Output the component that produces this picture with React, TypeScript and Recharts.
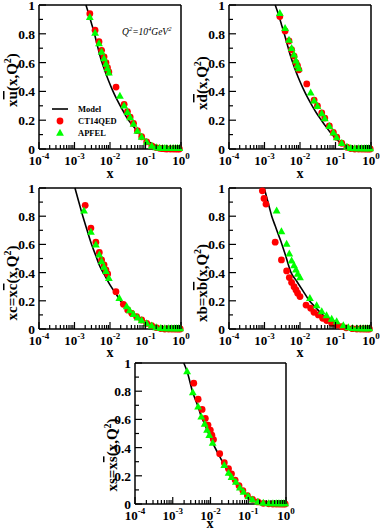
import { ComposedChart, Line, Scatter, XAxis, YAxis } from 'recharts'

const SERIF = "'Liberation Serif', 'Times New Roman', serif"
const RED = '#ff0000'
const GREEN = '#00ff00'

// ticks
const xMajorTicks = [1e-4, 1e-3, 1e-2, 1e-1, 1]
const xMinorMantissas = [2, 3, 4, 5, 6, 7, 8, 9]
const xTicks = [...xMajorTicks, ...xMajorTicks.slice(0, 4).flatMap(d => xMinorMantissas.map(m => m * d))]
const yTicks = [0, 0.1, 0.2, 0.3, 0.4, 0.5, 0.6, 0.7, 0.8, 0.9, 1]
const yMajorTicks = [0, 0.2, 0.4, 0.6, 0.8, 1]
const yTickLabels = ['0', '0.2', '0.4', '0.6', '0.8', '1']

// x ubar
const ubarModelX = [0.0021, 0.0025, 0.003, 0.0036, 0.0045, 0.0055, 0.007, 0.009, 0.012, 0.016, 0.022, 0.03, 0.04, 0.055, 0.07, 0.1, 0.14, 0.2, 0.3, 0.45, 0.7, 1.0]
const ubarModelY = [1.0, 0.94, 0.873, 0.805, 0.71, 0.628, 0.551, 0.478, 0.404, 0.339, 0.276, 0.216, 0.175, 0.132, 0.1, 0.065, 0.042, 0.024, 0.01, 0.003, 0, 0]
const ubarRedX = [0.0027, 0.0038, 0.0049, 0.0058, 0.0068, 0.0077, 0.0085, 0.0093, 0.0148, 0.025, 0.031, 0.037, 0.046, 0.059, 0.078, 0.108, 0.15, 0.2, 0.25, 0.3, 0.35, 0.4, 0.5, 0.6, 0.7, 0.8, 0.9]
const ubarRedY = [0.94, 0.825, 0.745, 0.685, 0.64, 0.6, 0.565, 0.535, 0.43, 0.31, 0.26, 0.222, 0.178, 0.127, 0.085, 0.05, 0.022, 0.01, 0.005, 0.002, 0.001, 0, 0, 0, 0, 0, 0]
const ubarGreenX = [0.0027, 0.0038, 0.0049, 0.0058, 0.0068, 0.0077, 0.0085, 0.0093, 0.019, 0.025, 0.031, 0.037, 0.046, 0.059, 0.078, 0.108, 0.15, 0.2, 0.25, 0.3, 0.35, 0.4, 0.5, 0.6, 0.7, 0.8, 0.9]
const ubarGreenY = [0.915, 0.805, 0.733, 0.673, 0.628, 0.59, 0.558, 0.53, 0.368, 0.3, 0.255, 0.218, 0.173, 0.124, 0.083, 0.048, 0.02, 0.01, 0.006, 0.005, 0.005, 0.005, 0.005, 0.005, 0.005, 0.005, 0.005]

// x dbar
const dbarModelX = [0.002, 0.0025, 0.003, 0.0036, 0.0045, 0.0055, 0.007, 0.009, 0.012, 0.016, 0.022, 0.03, 0.04, 0.055, 0.07, 0.1, 0.14, 0.2, 0.26, 0.35, 0.5, 0.7, 1.0]
const dbarModelY = [1.0, 0.93, 0.865, 0.8, 0.715, 0.64, 0.565, 0.495, 0.425, 0.362, 0.3, 0.245, 0.2, 0.152, 0.118, 0.075, 0.042, 0.015, 0.004, 0, 0, 0, 0]
const dbarRedX = [0.0027, 0.0038, 0.0049, 0.0058, 0.0068, 0.0077, 0.0085, 0.0093, 0.0155, 0.025, 0.031, 0.041, 0.05, 0.067, 0.087, 0.108, 0.15, 0.21, 0.27, 0.35, 0.45, 0.55, 0.65, 0.75, 0.85, 0.95]
const dbarRedY = [0.92, 0.82, 0.75, 0.69, 0.645, 0.6, 0.578, 0.55, 0.452, 0.34, 0.3, 0.25, 0.215, 0.16, 0.115, 0.082, 0.04, 0.012, 0.003, 0, 0, 0, 0, 0, 0, 0]
const dbarGreenX = [0.0027, 0.0038, 0.0049, 0.0058, 0.0068, 0.0077, 0.0085, 0.0093, 0.02, 0.025, 0.031, 0.041, 0.05, 0.067, 0.087, 0.108, 0.15, 0.21, 0.27, 0.35, 0.45, 0.55, 0.65, 0.75, 0.85, 0.95]
const dbarGreenY = [0.942, 0.838, 0.757, 0.7, 0.655, 0.612, 0.58, 0.558, 0.39, 0.335, 0.297, 0.246, 0.212, 0.158, 0.112, 0.08, 0.04, 0.013, 0.005, 0.003, 0.003, 0.003, 0.003, 0.003, 0.003, 0.003]

// x cbar
const cModelX = [0.00103, 0.0013, 0.0017, 0.0022, 0.003, 0.004, 0.0052, 0.007, 0.01, 0.015, 0.024, 0.035, 0.05, 0.07, 0.1, 0.15, 0.2, 0.3, 0.5, 0.7, 1.0]
const cModelY = [1.0, 0.908, 0.803, 0.711, 0.603, 0.519, 0.443, 0.384, 0.313, 0.246, 0.17, 0.132, 0.097, 0.064, 0.045, 0.025, 0.015, 0.006, 0.001, 0, 0]
const cRedX = [0.002, 0.0029, 0.004, 0.005, 0.0058, 0.0068, 0.0077, 0.0086, 0.0147, 0.0238, 0.0315, 0.041, 0.056, 0.078, 0.108, 0.149, 0.2, 0.27, 0.35, 0.45, 0.55, 0.65, 0.75, 0.85, 0.95]
const cRedY = [0.877, 0.716, 0.616, 0.543, 0.49, 0.455, 0.42, 0.39, 0.265, 0.175, 0.135, 0.111, 0.088, 0.064, 0.04, 0.024, 0.01, 0.003, 0, 0, 0, 0, 0, 0, 0]
const cGreenX = [0.00185, 0.0029, 0.004, 0.005, 0.0058, 0.0068, 0.0077, 0.0093, 0.0183, 0.0295, 0.036, 0.046, 0.06, 0.078, 0.108, 0.149, 0.2, 0.27, 0.35, 0.45, 0.55, 0.65, 0.75, 0.85, 0.95]
const cGreenY = [0.839, 0.687, 0.597, 0.526, 0.479, 0.44, 0.41, 0.36, 0.218, 0.159, 0.13, 0.105, 0.08, 0.06, 0.038, 0.022, 0.01, 0.005, 0.004, 0.004, 0.004, 0.004, 0.004, 0.004, 0.004]

// x bbar
const bModelX = [0.00098, 0.0013, 0.0016, 0.002, 0.0025, 0.0031, 0.004, 0.0056, 0.008, 0.012, 0.0184, 0.028, 0.0437, 0.07, 0.1, 0.16, 0.25, 0.4, 0.6, 1.0]
const bModelY = [1.0, 0.885, 0.8, 0.732, 0.665, 0.6, 0.514, 0.4, 0.34, 0.272, 0.2, 0.151, 0.1, 0.071, 0.052, 0.02, 0.007, 0.001, 0, 0]
const bRedX = [0.00087, 0.00097, 0.0011, 0.002, 0.003, 0.0042, 0.005, 0.0058, 0.0068, 0.0077, 0.0086, 0.01, 0.0148, 0.02, 0.0248, 0.033, 0.0436, 0.0565, 0.078, 0.108, 0.149, 0.2, 0.3, 0.4, 0.5, 0.6, 0.7, 0.8, 0.9]
const bRedY = [0.98, 0.926, 0.886, 0.616, 0.49, 0.412, 0.365, 0.33, 0.3, 0.277, 0.254, 0.23, 0.17, 0.147, 0.118, 0.1, 0.076, 0.06, 0.04, 0.028, 0.017, 0.008, 0.002, 0, 0, 0, 0, 0, 0]
const bGreenX = [0.0022, 0.003, 0.0042, 0.005, 0.0058, 0.0068, 0.0077, 0.0086, 0.01, 0.019, 0.0295, 0.041, 0.056, 0.078, 0.108, 0.166, 0.23, 0.3, 0.4, 0.5, 0.6, 0.7, 0.8, 0.9]
const bGreenY = [0.839, 0.692, 0.602, 0.533, 0.483, 0.45, 0.42, 0.39, 0.365, 0.218, 0.166, 0.123, 0.095, 0.071, 0.052, 0.024, 0.01, 0.005, 0.004, 0.004, 0.004, 0.004, 0.004, 0.004]

// x sbar
const sModelX = [0.00196, 0.0024, 0.0034, 0.0047, 0.0057, 0.007, 0.0081, 0.0093, 0.0114, 0.016, 0.0232, 0.03, 0.04, 0.055, 0.075, 0.1, 0.14, 0.2, 0.3, 0.45, 0.7, 1.0]
const sModelY = [1.0, 0.94, 0.79, 0.69, 0.62, 0.567, 0.524, 0.488, 0.433, 0.357, 0.274, 0.222, 0.17, 0.12, 0.08, 0.05, 0.028, 0.013, 0.004, 0.001, 0, 0]
const sRedX = [0.0036, 0.0047, 0.006, 0.0073, 0.0086, 0.0099, 0.0109, 0.012, 0.0175, 0.0232, 0.03, 0.036, 0.045, 0.057, 0.072, 0.095, 0.13, 0.18, 0.25, 0.35, 0.45, 0.55, 0.65, 0.75, 0.85, 0.95]
const sRedY = [0.857, 0.743, 0.671, 0.607, 0.56, 0.524, 0.488, 0.457, 0.357, 0.293, 0.25, 0.214, 0.17, 0.13, 0.095, 0.06, 0.033, 0.015, 0.005, 0.001, 0, 0, 0, 0, 0, 0]
const sGreenX = [0.0024, 0.0034, 0.0047, 0.0057, 0.007, 0.0081, 0.0093, 0.0114, 0.0232, 0.0301, 0.036, 0.047, 0.06, 0.075, 0.1, 0.13, 0.18, 0.25, 0.35, 0.45, 0.55, 0.65, 0.75, 0.85, 0.95]
const sGreenY = [0.94, 0.79, 0.69, 0.619, 0.567, 0.524, 0.488, 0.433, 0.274, 0.219, 0.19, 0.155, 0.115, 0.085, 0.052, 0.03, 0.014, 0.006, 0.004, 0.004, 0.004, 0.004, 0.004, 0.004, 0.004]

const zip = (xs: number[], ys: number[]) => xs.map((x, i) => ({ x, y: ys[i] }))

const RedDot = (p: any) => <circle cx={p.cx} cy={p.cy} r={3.4} fill={RED} />
const GreenTri = (p: any) => (
  <polygon points={`${p.cx},${p.cy - 4.3} ${p.cx - 3.9},${p.cy + 2.7} ${p.cx + 3.9},${p.cy + 2.7}`} fill={GREEN} />
)

const tickText = { fontFamily: SERIF, fontWeight: 'bold' as const, fill: '#000' }

const BottomTick = ({ x, y, payload }: any) => {
  const major = xMajorTicks.includes(payload.value)
  return (
    <g>
      <line x1={x} x2={x} y1={y} y2={y - (major ? 7 : 4)} stroke="#000" strokeWidth={1.2} />
      {major && (
        <text x={x} y={y + 16} textAnchor="middle" fontSize={13} {...tickText}>
          10<tspan dy={-6} fontSize={9}>{Math.round(Math.log10(payload.value))}</tspan>
        </text>
      )}
    </g>
  )
}

const TopTick = ({ x, y, payload }: any) => {
  const major = xMajorTicks.includes(payload.value)
  return <line x1={x} x2={x} y1={y} y2={y + (major ? 7 : 4)} stroke="#000" strokeWidth={1.2} />
}

const LeftTick = ({ x, y, payload }: any) => {
  const idx = yMajorTicks.indexOf(payload.value)
  const major = idx >= 0
  return (
    <g>
      <line x1={x} x2={x + (major ? 7 : 4)} y1={y} y2={y} stroke="#000" strokeWidth={1.2} />
      {major && (
        <text x={x - 4} y={y + 5} textAnchor="end" fontSize={13.5} {...tickText}>{yTickLabels[idx]}</text>
      )}
    </g>
  )
}

const RightTick = ({ x, y, payload }: any) => {
  const major = yMajorTicks.includes(payload.value)
  return <line x1={x} x2={x - (major ? 7 : 4)} y1={y} y2={y} stroke="#000" strokeWidth={1.2} />
}

const frame = { stroke: '#000', strokeWidth: 1.5 }

interface PanelProps {
  plot: [number, number, number, number]
  model: { x: number; y: number }[]
  red: { x: number; y: number }[]
  green: { x: number; y: number }[]
}

function Panel({ plot, model, red, green }: PanelProps) {
  const [L, T, W, H] = plot
  return (
    <div style={{ position: 'absolute', left: L - 45, top: T - 12 }}>
      <ComposedChart width={W + 61} height={H + 47} margin={{ top: 11, right: 15, bottom: 0, left: 0 }}>
        <XAxis xAxisId="b" dataKey="x" type="number" scale="log" domain={[1e-4, 1]} ticks={xTicks} interval={0}
          tick={BottomTick} tickLine={false} tickSize={0} tickMargin={0} height={35} axisLine={frame} />
        <XAxis xAxisId="t" orientation="top" dataKey="x" type="number" scale="log" domain={[1e-4, 1]} ticks={xTicks}
          interval={0} tick={TopTick} tickLine={false} tickSize={0} tickMargin={0} height={1} axisLine={frame} />
        <YAxis yAxisId="l" dataKey="y" type="number" domain={[0, 1]} ticks={yTicks} interval={0}
          tick={LeftTick} tickLine={false} tickSize={0} tickMargin={0} width={45} axisLine={frame} />
        <YAxis yAxisId="r" orientation="right" dataKey="y" type="number" domain={[0, 1]} ticks={yTicks} interval={0}
          tick={RightTick} tickLine={false} tickSize={0} tickMargin={0} width={1} axisLine={frame} />
        <Scatter xAxisId="b" yAxisId="l" data={red} dataKey="y" shape={RedDot} isAnimationActive={false} />
        <Scatter xAxisId="b" yAxisId="l" data={green} dataKey="y" shape={GreenTri} isAnimationActive={false} />
        <Line xAxisId="b" yAxisId="l" data={model} dataKey="y" type="monotone" stroke="#000" strokeWidth={1.6}
          dot={false} activeDot={false} isAnimationActive={false} />
      </ComposedChart>
    </div>
  )
}

const labelStyle = { fontFamily: SERIF, fontWeight: 'bold' as const, fill: '#000' }

function YLabel({ cx, cy, prefix, q }: { cx: number; cy: number; prefix: string; q: string }) {
  return (
    <text transform={`translate(${cx},${cy}) rotate(-90)`} textAnchor="middle" dy={5} fontSize={15} {...labelStyle}>
      {prefix}<tspan style={{ textDecoration: 'overline' }}>{q}</tspan>(x,Q<tspan dy={-6} fontSize={10}>2</tspan><tspan dy={6}>)</tspan>
    </text>
  )
}

function XLabel({ cx, cy }: { cx: number; cy: number }) {
  return <text x={cx} y={cy + 4} textAnchor="middle" fontSize={14} {...labelStyle}>x</text>
}

export default function App() {
  return (
    <div style={{ position: 'absolute', left: 0, top: 0, width: 380, height: 531, background: '#fff', overflow: 'hidden' }}>
      <Panel plot={[39, 5, 142, 144]} model={zip(ubarModelX, ubarModelY)} red={zip(ubarRedX, ubarRedY)} green={zip(ubarGreenX, ubarGreenY)} />
      <Panel plot={[229, 5, 142, 144]} model={zip(dbarModelX, dbarModelY)} red={zip(dbarRedX, dbarRedY)} green={zip(dbarGreenX, dbarGreenY)} />
      <Panel plot={[39, 188, 142, 141]} model={zip(cModelX, cModelY)} red={zip(cRedX, cRedY)} green={zip(cGreenX, cGreenY)} />
      <Panel plot={[229, 188, 142, 141]} model={zip(bModelX, bModelY)} red={zip(bRedX, bRedY)} green={zip(bGreenX, bGreenY)} />
      <Panel plot={[135, 363, 151, 141]} model={zip(sModelX, sModelY)} red={zip(sRedX, sRedY)} green={zip(sGreenX, sGreenY)} />

      <svg width={380} height={531} style={{ position: 'absolute', left: 0, top: 0, pointerEvents: 'none' }}>
        <YLabel cx={12} cy={80} prefix="x" q="u" />
        <YLabel cx={202} cy={83} prefix="x" q="d" />
        <YLabel cx={12} cy={283} prefix="xc=x" q="c" />
        <YLabel cx={202} cy={283} prefix="xb=x" q="b" />
        <YLabel cx={112} cy={455} prefix="xs=x" q="s" />
        <XLabel cx={110} cy={174} />
        <XLabel cx={300} cy={174} />
        <XLabel cx={110} cy={353} />
        <XLabel cx={300} cy={353} />
        <XLabel cx={210} cy={524} />

        <text x={122} y={35} fontSize={9.5} fontStyle="italic" fontFamily={SERIF} fill="#000">
          Q<tspan dy={-4} fontSize={6.5}>2</tspan><tspan dy={4}>=10</tspan><tspan dy={-4} fontSize={6.5}>4</tspan><tspan dy={4}>GeV</tspan><tspan dy={-4} fontSize={6.5}>2</tspan>
        </text>

        <line x1={52} x2={68} y1={109} y2={109} stroke="#000" strokeWidth={1.6} />
        <text x={78} y={112} fontSize={8.5} {...labelStyle}>Model</text>
        <circle cx={60} cy={121} r={3.4} fill={RED} />
        <text x={78} y={124} fontSize={8.5} {...labelStyle}>CT14QED</text>
        <polygon points="60,128.7 56.1,135.7 63.9,135.7" fill={GREEN} />
        <text x={78} y={136} fontSize={8.5} {...labelStyle}>APFEL</text>
      </svg>
    </div>
  )
}
